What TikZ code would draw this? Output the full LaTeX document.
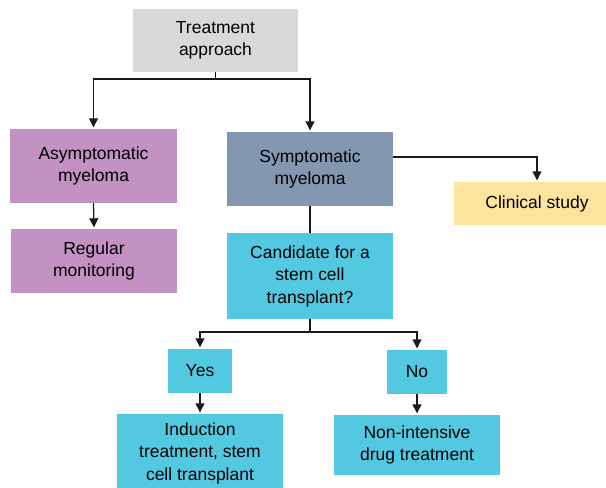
\documentclass[tikz,border=0pt]{standalone}
\usepackage{fontspec}
\setmainfont{Liberation Sans}
\usetikzlibrary{arrows.meta}
\definecolor{cgray}{HTML}{D9D9D9}
\definecolor{cpurple}{HTML}{C391C2}
\definecolor{cslate}{HTML}{8497B0}
\definecolor{ccyan}{HTML}{53C8E1}
\definecolor{cyellow}{HTML}{FBE49B}
\definecolor{cline}{HTML}{1A1A1A}
\tikzset{
  box/.style={inner sep=0pt, align=center, font=\fontsize{17.5}{22.5}\selectfont, text=black},
  arr/.style={draw=cline, line width=1.3pt, -{Triangle[length=9pt,width=9pt]}, shorten >=1.5pt},
  conn/.style={draw=cline, line width=1.3pt},
}
\begin{document}
\begin{tikzpicture}[x=1pt,y=-1pt]
\useasboundingbox (0,0) rectangle (606,488);
\fill[white] (0,0) rectangle (606,488);
\node[box, fill=cgray, minimum width=165pt, minimum height=63pt] (treat) at (215.5,40.5) {Treatment\\approach};
\node[box, fill=cpurple, minimum width=167pt, minimum height=74pt] (asym) at (93.5,166) {Asymptomatic\\myeloma};
\node[box, fill=cslate, minimum width=166pt, minimum height=74pt] (symp) at (310,169) {Symptomatic\\myeloma};
\node[box, fill=cyellow, minimum width=166pt, minimum height=43pt] (clin) at (537,203.5) {Clinical study};
\node[box, fill=cpurple, minimum width=166pt, minimum height=64pt] (reg) at (94,261) {Regular\\monitoring};
\node[box, fill=ccyan, minimum width=166pt, minimum height=86pt] (cand) at (310,276) {Candidate for a\\stem cell\\transplant?};
\node[box, fill=ccyan, minimum width=64pt, minimum height=44pt] (yes) at (200,371) {Yes};
\node[box, fill=ccyan, minimum width=60pt, minimum height=44pt] (no) at (417,372) {No};
\node[box, fill=ccyan, minimum width=166pt, minimum height=78pt] (ind) at (200,453) {Induction\\treatment, stem\\cell transplant};
\node[box, fill=ccyan, minimum width=166pt, minimum height=60pt] (non) at (417,445) {Non-intensive\\drug treatment};
\coordinate (j1) at (215.5,79);
\coordinate (j2) at (310,332);
\draw[conn] (treat.south) -- (j1);
\draw[arr] (j1) -| (asym.north);
\draw[arr] (j1) -| (symp.north);
\draw[arr] ([yshift=12pt]symp.east) -| (clin.north);
\draw[arr] (asym.south) -- (reg.north);
\draw[conn] (symp.south) -- (cand.north);
\draw[conn] (cand.south) -- (j2);
\draw[arr] (j2) -| (yes.north);
\draw[arr] (j2) -| (no.north);
\draw[arr] (yes.south) -- (ind.north);
\draw[arr] (no.south) -- (non.north);
\end{tikzpicture}
\end{document}
